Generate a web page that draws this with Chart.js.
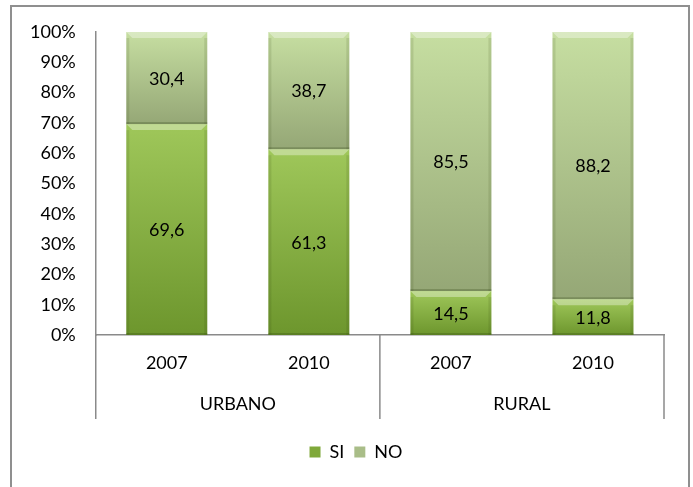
<!DOCTYPE html>
<html>
<head>
<meta charset="utf-8">
<script src="https://cdn.jsdelivr.net/npm/chart.js@4.4.0/dist/chart.umd.min.js"></script>
<style>
    body { margin: 0; background: #fff; }
    #marco { position: absolute; left: 10px; top: 5px; width: 680px; height: 490px; border: 2px solid #8f8f8f; box-sizing: border-box; }
    #grafico { position: absolute; left: 0; top: 0; }
</style>
</head>
<body>
<div id="marco"></div>
<canvas id="grafico" width="693" height="487"></canvas>
<script>
// Datos del gráfico
const anios = ["2007", "2010", "2007", "2010"];
const zonas = ["URBANO", "RURAL"];
const valoresSi = [69.6, 61.3, 14.5, 11.8];
const valoresNo = [30.4, 38.7, 85.5, 88.2];
const nombresSeries = ["SI", "NO"];

const fuente = "Lato, 'Liberation Sans', sans-serif";
const tamFuente = 18;
const colorEje = "#8a8a8a";
const altoFila = 42;

// Degradado vertical para cada barra (claro arriba, oscuro abajo)
function degradado(ctx, claro, oscuro) {
    const chart = ctx.chart;
    if (!chart.chartArea || ctx.type !== "data") return oscuro;
    const y = chart.scales.y;
    const i = ctx.dataIndex;
    const base = ctx.datasetIndex === 0 ? 0 : valoresSi[i];
    const tope = ctx.datasetIndex === 0 ? valoresSi[i] : 100;
    const g = chart.ctx.createLinearGradient(0, y.getPixelForValue(tope), 0, y.getPixelForValue(base));
    g.addColorStop(0, claro);
    g.addColorStop(1, oscuro);
    return g;
}

// Efecto biselado sobre cada segmento
const bisel = {
    id: "bisel",
    afterDatasetsDraw(chart) {
        const c = chart.ctx;
        c.save();
        chart.data.datasets.forEach((ds, d) => {
            chart.getDatasetMeta(d).data.forEach(barra => {
                const izq = barra.x - barra.width / 2;
                const der = barra.x + barra.width / 2;
                const arriba = barra.y;
                const abajo = barra.base;
                const b = 6;
                // borde superior claro
                c.fillStyle = "rgba(255,255,255,0.35)";
                c.beginPath();
                c.moveTo(izq, arriba);
                c.lineTo(der, arriba);
                c.lineTo(der - b, arriba + b);
                c.lineTo(izq + b, arriba + b);
                c.closePath();
                c.fill();
                // laterales oscuros
                c.fillStyle = "rgba(40,60,10,0.12)";
                c.fillRect(izq, arriba + b, 3, abajo - arriba - b);
                c.fillRect(der - 3, arriba + b, 3, abajo - arriba - b);
                // borde inferior oscuro
                c.fillStyle = "rgba(40,60,10,0.25)";
                c.fillRect(izq, abajo - 2, der - izq, 2);
            });
        });
        c.restore();
    }
};

// Etiquetas con el valor en el centro de cada segmento
const etiquetasValor = {
    id: "etiquetasValor",
    afterDatasetsDraw(chart) {
        const c = chart.ctx;
        c.save();
        c.font = tamFuente + "px " + fuente;
        c.fillStyle = "#000";
        c.textAlign = "center";
        c.textBaseline = "middle";
        chart.data.datasets.forEach((ds, d) => {
            chart.getDatasetMeta(d).data.forEach((barra, i) => {
                const texto = ds.data[i].toFixed(1).replace(".", ",");
                c.fillText(texto, barra.x, (barra.y + barra.base) / 2 + 1);
            });
        });
        c.restore();
    }
};

// Líneas verticales que separan los grupos del eje x
const separadores = {
    id: "separadores",
    afterLayout(chart) {
        // la leyenda va centrada en el marco, no en el área del gráfico
        chart.legend.left += 19;
        chart.legend.right += 19;
    },
    afterDraw(chart) {
        const g = chart.scales.xGrupo;
        const c = chart.ctx;
        const medio = (g.getPixelForTick(0) + g.getPixelForTick(1)) / 2;
        c.save();
        c.strokeStyle = colorEje;
        c.lineWidth = 1.5;
        [g.left, medio, g.right].forEach(x => {
            c.beginPath();
            c.moveTo(x, chart.chartArea.bottom);
            c.lineTo(x, g.top + altoFila);
            c.stroke();
        });
        c.restore();
    }
};

const configuracion = {
    type: "bar",
    data: {
        labels: anios,
        datasets: [{
            label: nombresSeries[0],
            data: valoresSi,
            backgroundColor: ctx => degradado(ctx, "#9fc75a", "#6d962d"),
            borderWidth: 0
        }, {
            label: nombresSeries[1],
            data: valoresNo,
            backgroundColor: ctx => degradado(ctx, "#c6dea1", "#95a776"),
            borderWidth: 0
        }]
    },
    options: {
        responsive: false,
        animation: false,
        categoryPercentage: 1,
        barPercentage: 0.57,
        layout: { padding: { left: 10, right: 29, top: 32, bottom: 16 } },
        plugins: {
            tooltip: { enabled: false },
            legend: {
                position: "bottom",
                labels: {
                    font: { family: fuente, size: tamFuente },
                    color: "#000",
                    boxWidth: 11,
                    boxHeight: 11,
                    padding: 10,
                    generateLabels(chart) {
                        const colores = ["#7fa83a", "#a9bd88"];
                        return Chart.defaults.plugins.legend.labels.generateLabels(chart).map((l, i) => {
                            l.fillStyle = colores[i];
                            l.strokeStyle = colores[i];
                            l.lineWidth = 0;
                            return l;
                        });
                    }
                }
            }
        },
        scales: {
            x: {
                stacked: true,
                grid: { display: false, drawTicks: false },
                border: { color: colorEje, width: 1.5 },
                ticks: { font: { family: fuente, size: tamFuente }, color: "#000", padding: 17 },
                afterFit(scale) { scale.height = altoFila; }
            },
            xGrupo: {
                type: "category",
                labels: zonas,
                position: "bottom",
                weight: 1,
                offset: true,
                grid: { display: false, drawTicks: false },
                border: { display: false },
                ticks: { font: { family: fuente, size: tamFuente }, color: "#000", padding: 16 },
                afterFit(scale) { scale.height = altoFila + 14; }
            },
            y: {
                stacked: true,
                min: 0,
                max: 100,
                grid: { display: false, drawTicks: false },
                border: { color: colorEje, width: 1.5 },
                ticks: {
                    stepSize: 10,
                    padding: 20,
                    font: { family: fuente, size: tamFuente },
                    color: "#000",
                    callback: v => v + "%"
                }
            }
        }
    },
    plugins: [bisel, etiquetasValor, separadores]
};

new Chart(document.querySelector("#grafico"), configuracion);
</script>
</body>
</html>
